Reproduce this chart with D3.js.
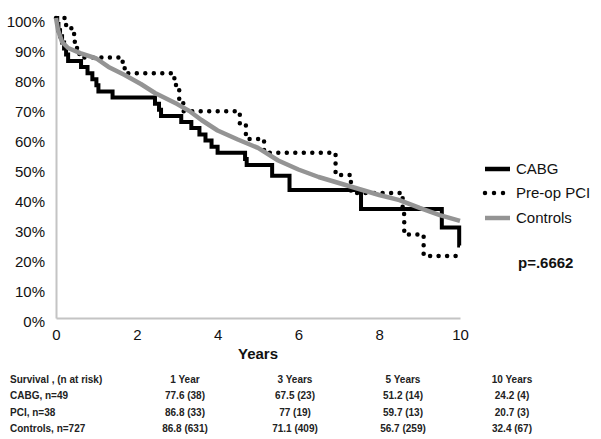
<!DOCTYPE html>
<html><head><meta charset="utf-8">
<script src="https://cdn.jsdelivr.net/npm/d3@7"></script>
<style>body{margin:0;background:#fff;}svg{display:block;font-family:Arial,"Liberation Sans",sans-serif;}</style>
</head><body>
<script>
// ---- data ----
const yTicks = [0,10,20,30,40,50,60,70,80,90,100];
const xTicks = [0,2,4,6,8,10];
const seriesNames = ["CABG","Pre-op PCI","Controls"];
const cabgT = [0,0.03,0.06,0.1,0.15,0.2,0.25,0.3,0.62,0.78,0.9,1.0,1.05,1.4,2.45,2.55,2.6,3.1,3.35,3.55,3.7,3.85,4.0,4.68,4.72,5.35,5.78,7.55,9.55,9.98,10];
const cabgS = [100,98.0,95.9,93.9,91.8,89.8,87.8,85.7,83.7,81.6,79.6,77.6,75.5,73.5,71.4,69.4,67.3,65.3,63.3,61.2,59.2,57.1,55.1,53.0,51.0,47.4,42.7,36.3,30.2,24.2,24.2];
const pciT = [0,0.25,0.38,0.45,0.52,0.58,1.65,1.7,2.93,2.97,3.05,3.15,4.55,4.7,5.15,6.92,7.3,8.58,8.62,9.1,10];
const pciS = [100,97.4,94.7,92.1,89.5,86.8,84.2,81.6,79.2,77.0,72.9,68.9,64.7,59.7,55.1,47.7,41.7,34.7,27.8,20.7,20.7];
const ctrlT = [0,0.05,0.15,0.3,0.6,1.0,1.3,1.7,2.1,2.45,3.0,3.3,3.6,4.0,4.5,5.0,5.5,5.75,6.0,6.5,7.0,7.5,8.0,8.5,9.0,9.5,10];
const ctrlS = [100,96,92,90,88.3,86.5,83.7,81,78,75,71.3,69,66,62.5,59.5,56.7,52.5,51,49.5,47,45,43,41,39.3,36.7,34.3,32.4];
const pValue = "p=.6662";
const tableHeader = ["Survival , (n at risk)","1 Year","3 Years","5 Years","10 Years"];
const tableRows = [
  ["CABG, n=49","77.6 (38)","67.5 (23)","51.2 (14)","24.2 (4)"],
  ["PCI, n=38","86.8 (33)","77 (19)","59.7 (13)","20.7 (3)"],
  ["Controls, n=727","86.8 (631)","71.1 (409)","56.7 (259)","32.4 (67)"]
];

// ---- chart ----
const W=601,H=439;
const svg=d3.select("body").append("svg").attr("width",W).attr("height",H);
const x=d3.scaleLinear().domain([0,10]).range([56,460]);
const y=d3.scaleLinear().domain([0,100]).range([318,18]);

// axes
const gx=svg.append("g").attr("transform","translate(0,318)")
  .call(d3.axisBottom(x).tickValues(xTicks).tickSize(0).tickPadding(0).tickFormat(d3.format("d")));
gx.select(".domain").attr("stroke","#c4c4c4").attr("stroke-width",2);
gx.selectAll("text").attr("font-size",15).attr("fill","#111").attr("font-family","Arial, 'Liberation Sans', sans-serif").attr("y",22).attr("dy",0);
const gy=svg.append("g").attr("transform","translate(56,0)")
  .call(d3.axisLeft(y).tickValues(yTicks).tickSize(0).tickPadding(11).tickFormat(d=>d+"%"));
gy.select(".domain").attr("stroke","#c4c4c4").attr("stroke-width",2);
gy.selectAll("text").attr("font-size",15).attr("fill","#111").attr("font-family","Arial, 'Liberation Sans', sans-serif").attr("dy","0.55em");

svg.append("text").attr("x",258).attr("y",359).attr("text-anchor","middle")
  .attr("font-size",15).attr("font-weight","bold").attr("fill","#111").text("Years");

const step=d3.line().x(d=>x(d[0])).y(d=>y(d[1])).curve(d3.curveStepAfter);
const smooth=d3.line().x(d=>x(d[0])).y(d=>y(d[1])).curve(d3.curveLinear);
const cabg=cabgT.map((t,i)=>[t,cabgS[i]]);
const pci=pciT.map((t,i)=>[t,pciS[i]]);
const ctrl=ctrlT.map((t,i)=>[t,ctrlS[i]]);

svg.append("path").datum(cabg).attr("d",step).attr("fill","none").attr("stroke","#000").attr("stroke-width",4);
svg.append("path").datum(pci).attr("d",step).attr("fill","none").attr("stroke","#000").attr("stroke-width",4.5)
  .attr("stroke-linecap","round").attr("stroke-dasharray","0,8.5");
svg.append("path").datum(ctrl).attr("d",smooth).attr("fill","none").attr("stroke","#949494").attr("stroke-width",4.5)
  .attr("stroke-linejoin","round");

// legend
const lg=svg.append("g");
const ly=[169,193,218];
lg.append("line").attr("x1",485).attr("x2",510).attr("y1",ly[0]).attr("y2",ly[0]).attr("stroke","#000").attr("stroke-width",4.5);
lg.append("line").attr("x1",485).attr("x2",505).attr("y1",ly[1]).attr("y2",ly[1]).attr("stroke","#000").attr("stroke-width",4.5)
  .attr("stroke-linecap","round").attr("stroke-dasharray","0,9");
lg.append("line").attr("x1",485).attr("x2",510).attr("y1",ly[2]).attr("y2",ly[2]).attr("stroke","#949494").attr("stroke-width",4.5);
lg.selectAll("text.l").data(seriesNames).enter().append("text").attr("class","l")
  .attr("x",516).attr("y",(d,i)=>ly[i]).attr("dy","0.36em").attr("font-size",15).attr("fill","#111").text(d=>d);
svg.append("text").attr("x",518).attr("y",263).attr("dy","0.36em").attr("font-size",15).attr("font-weight","bold").attr("fill","#111").text(pValue);

// table
const colX=[10,185,295,403,512];
const rowY=[379,395,412,428];
const tbl=svg.append("g").attr("font-size",10).attr("font-weight","bold").attr("fill","#222");
[tableHeader].concat(tableRows).forEach((row,ri)=>{
  row.forEach((cell,ci)=>{
    tbl.append("text").attr("x",colX[ci]).attr("y",rowY[ri]).attr("dy","0.35em")
      .attr("text-anchor",ci===0?"start":"middle").text(cell);
  });
});
</script>
</body></html>
